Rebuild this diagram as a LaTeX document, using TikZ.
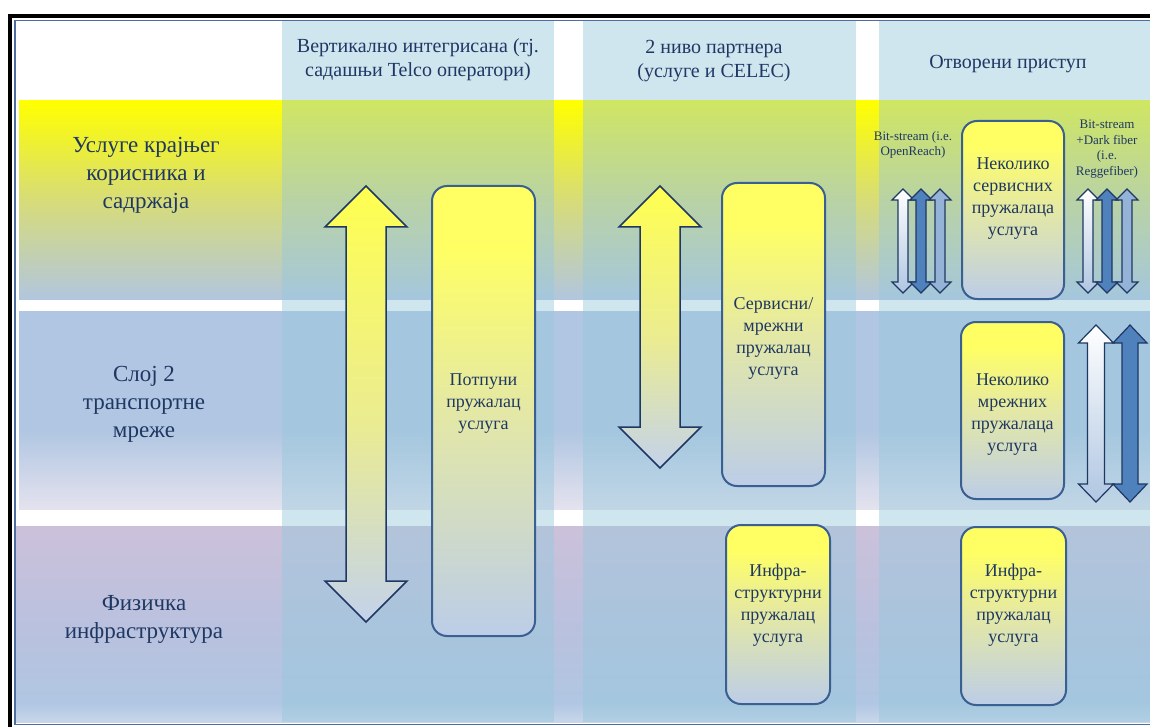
\documentclass[tikz,border=0pt]{standalone}
\usepackage{fontspec}
\setmainfont{Liberation Serif}
\usetikzlibrary{shadings}

\definecolor{navy}{RGB}{31,56,99}
\definecolor{boxline}{RGB}{58,95,145}
\definecolor{frameblue}{RGB}{79,110,160}
\definecolor{colblue}{RGB}{150,200,220}
\definecolor{steel}{RGB}{176,198,226}
\definecolor{steelpale}{RGB}{200,214,234}
\definecolor{lav}{RGB}{204,193,218}
\definecolor{lavblue}{RGB}{186,193,222}
\definecolor{lavpale}{RGB}{228,226,238}
\definecolor{rowonemid}{RGB}{215,220,120}
\definecolor{rowonebot}{RGB}{178,198,222}
\definecolor{midblue}{RGB}{79,129,189}
\definecolor{lightblue}{RGB}{149,179,215}
\definecolor{boxtop}{RGB}{255,255,100}
\definecolor{boxmid}{RGB}{228,232,165}
\definecolor{boxbot}{RGB}{188,205,232}
\definecolor{arrtop}{RGB}{255,255,80}
\definecolor{arrmid}{RGB}{235,236,145}
\definecolor{arrbot}{RGB}{195,210,235}

\pgfdeclareverticalshading{rowone}{100bp}{color(0bp)=(rowonebot); color(25bp)=(rowonebot); color(50bp)=(rowonemid); color(75bp)=(yellow); color(100bp)=(yellow)}
\pgfdeclareverticalshading{rowtwo}{100bp}{color(0bp)=(lavpale); color(25bp)=(lavpale); color(45bp)=(steel); color(75bp)=(steel); color(100bp)=(steel)}
\pgfdeclareverticalshading{rowthree}{100bp}{color(0bp)=(steelpale); color(25bp)=(steelpale); color(30bp)=(steel); color(50bp)=(lavblue); color(75bp)=(lav); color(100bp)=(lav)}
\pgfdeclareverticalshading{boxshade}{100bp}{color(0bp)=(boxbot); color(25bp)=(boxbot); color(50bp)=(boxmid); color(68bp)=(boxtop); color(100bp)=(boxtop)}
\pgfdeclareverticalshading{arrshade}{100bp}{color(0bp)=(arrbot); color(25bp)=(arrbot); color(48bp)=(arrmid); color(75bp)=(arrtop); color(100bp)=(arrtop)}

% style, x, top, bottom, half shaft, half head, head length
\newcommand{\updown}[7]{%
  \draw[#1] (#2,#3) -- (#2+#6,#3+#7) -- (#2+#5,#3+#7) -- (#2+#5,#4-#7)
    -- (#2+#6,#4-#7) -- (#2,#4) -- (#2-#6,#4-#7) -- (#2-#5,#4-#7)
    -- (#2-#5,#3+#7) -- (#2-#6,#3+#7) -- cycle;}

\begin{document}
\begin{tikzpicture}[
  x=1pt, y=-1pt,
  every node/.style={text=navy, align=center},
  hdr/.style={font=\fontsize{20}{24}\selectfont},
  lbl/.style={font=\fontsize{23}{28}\selectfont},
  boxtxt/.style={font=\fontsize{18}{22}\selectfont},
  small/.style={font=\fontsize{13}{15.7}\selectfont},
  column/.style={fill=colblue, fill opacity=0.45},
  provider/.style={draw=boxline, line width=2pt, rounded corners=15pt, shade, shading=boxshade},
  bigarr/.style={draw=navy, line width=1.5pt, shade, shading=arrshade},
  arrwhite/.style={draw=navy, line width=1.2pt, top color=white, bottom color=steel},
  arrdark/.style={draw=navy, line width=1.2pt, fill=midblue},
  arrlight/.style={draw=navy, line width=1.2pt, fill=lightblue}
]
\useasboundingbox (0,0) rectangle (1150,727);
\fill[white] (0,0) rectangle (1150,727);

% rows
\path[shade, shading=rowone] (19,101) rectangle (1160,299);
\path[shade, shading=rowtwo] (19,311) rectangle (1160,509);
\path[shade, shading=rowthree] (15.5,526) rectangle (1160,722);

% columns
\fill[column] (282,21) rectangle (554,722);
\fill[column] (583,21) rectangle (856,722);
\fill[column] (879,21) rectangle (1160,722);

% frame
\draw[black, line width=4pt] (10,15.7) rectangle (1170,740);
\draw[frameblue, line width=1.3pt] (15,20.5) rectangle (1165,724.5);

\node[hdr] (hdrVert) at (418,60) {Вертикално интегрисана (тј.\\садашњи Telco оператори)};
\node[hdr] (hdrPart) at (714,61) {2 ниво партнера\\(услуге и CELEC)};
\node[hdr] (hdrOpen) at (1008,64) {Отворени приступ};

\node[lbl] (lblServ) at (146,175) {Услуге крајњег\\корисника и\\садржаја};
\node[lbl] (lblNet) at (144,404) {Слој 2\\транспортне\\мреже};
\node[lbl] (lblPhys) at (144,619) {Физичка\\инфраструктура};

% vertically integrated
\updown{bigarr}{366}{186}{622}{20}{41}{41}
\draw[provider] (432,186) rectangle (535,636);
\node[boxtxt] (fullProv) at (483.5,404) {Потпуни\\пружалац\\услуга};

% second level partners
\updown{bigarr}{660}{186}{468}{20}{41}{41}
\draw[provider] (722,183) rectangle (825,486);
\node[boxtxt] (servProv) at (773.5,338) {Сервисни/\\мрежни\\пружалац\\услуга};
\draw[provider] (726,525) rectangle (830,704);
\node[boxtxt] (infraProvA) at (778,605) {Инфра-\\структурни\\пружалац\\услуга};

% open access
\node[small] (bitOpen) at (913,145) {Bit-stream (i.e.\\OpenReach)};
\node[small] (bitDark) at (1107,149) {Bit-stream\\+Dark fiber\\(i.e.\\Reggefiber)};
\updown{arrwhite}{903}{189}{293}{5}{11}{11}
\updown{arrdark}{921}{189}{293}{5}{11}{11}
\updown{arrlight}{940}{189}{293}{5}{11}{11}
\updown{arrwhite}{1088}{189}{293}{5}{11}{11}
\updown{arrdark}{1107}{189}{293}{5}{11}{11}
\updown{arrlight}{1127}{189}{293}{5}{11}{11}
\draw[provider] (962,121) rectangle (1064,299);
\node[boxtxt] (servMany) at (1013,199) {Неколико\\сервисних\\пружалаца\\услуга};

\updown{arrwhite}{1096}{325}{502}{8.5}{17.5}{18}
\updown{arrdark}{1130}{325}{502}{8}{17}{18}
\draw[provider] (961,322) rectangle (1064,499);
\node[boxtxt] (netMany) at (1012.5,415) {Неколико\\мрежних\\пружалаца\\услуга};

\draw[provider] (961,527) rectangle (1066,705);
\node[boxtxt] (infraProvB) at (1013.5,605) {Инфра-\\структурни\\пружалац\\услуга};
\end{tikzpicture}
\end{document}
